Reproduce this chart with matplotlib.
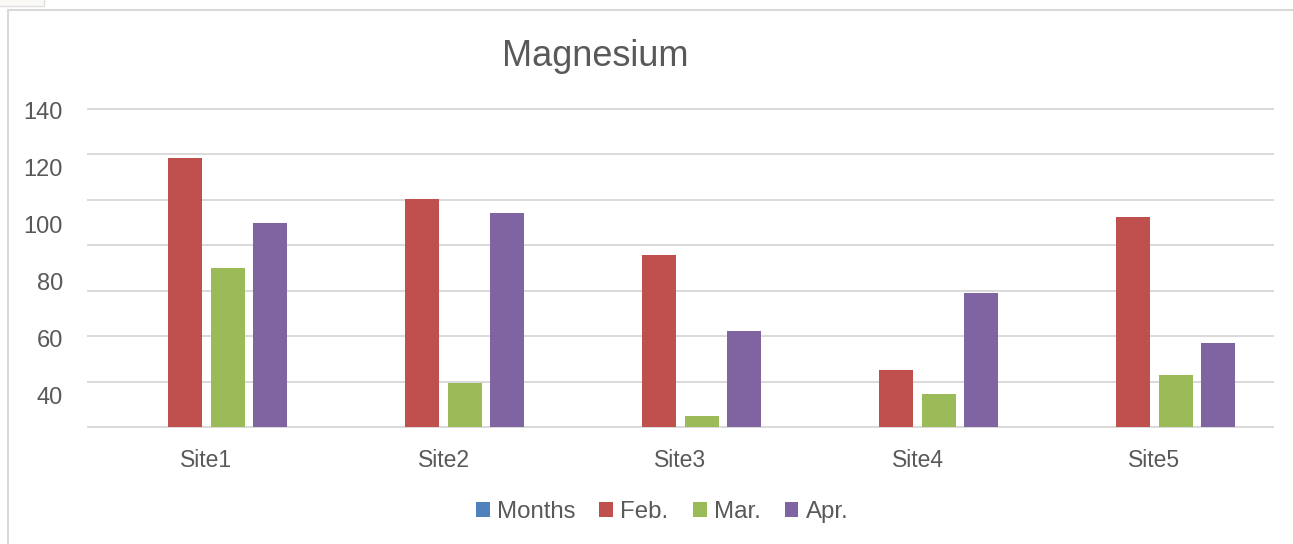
import matplotlib
matplotlib.use("Agg")
import matplotlib.pyplot as plt
import numpy as np
from matplotlib.patches import Rectangle

plt.rcParams['font.family'] = ['Liberation Sans', 'DejaVu Sans']

# ---- data ----
categories = ["Site1", "Site2", "Site3", "Site4", "Site5"]
series_names = ["Months", "Feb.", "Mar.", "Apr."]
months = [0, 0, 0, 0, 0]
feb = [123.2, 108.9, 89.4, 49.1, 102.6]
mar = [84.6, 44.5, 33.0, 40.7, 47.3]
apr = [100.4, 104.0, 62.7, 75.9, 58.5]
ytick_values = [40, 60, 80, 100, 120, 140]
title = "Magnesium"

colors = ["#4F81BD", "#C0504D", "#9BBB59", "#8064A2"]
TXT = "#595959"
GRID = "#D9D9D9"

W, H = 1293, 544
fig = plt.figure(figsize=(W / 100, H / 100), dpi=100)
fig.patch.set_facecolor("white")

# outer chart border and small artifact box
fig.add_artist(Rectangle((7.5 / W, -0.1), 1.2, (H - 9.5) / H + 0.1, transform=fig.transFigure,
                         fill=False, edgecolor="#D9D9D9", linewidth=1.5))
fig.add_artist(Rectangle((-0.01, 1 - 5.5 / H), 57 / W, 0.02, transform=fig.transFigure,
                         facecolor="#FAF9F5", edgecolor="#E0E0E0", linewidth=1))

left, right, top, bottom = 88, 1273, 109, 427
ax = fig.add_axes([left / W, 1 - bottom / H, (right - left) / W, (bottom - top) / H])

YMIN, YMAX = 29.16, 140.35
ax.set_ylim(YMIN, YMAX)
ax.set_xlim(-0.5, len(categories) - 0.5)

x = np.arange(len(categories))
width = 0.1435
step = 0.18
all_series = [months, feb, mar, apr]
handles = []
for k, (name, vals, c) in enumerate(zip(series_names, all_series, colors)):
    off = (k - 1.5) * step
    v = np.array(vals, dtype=float)
    h = np.where(v > YMIN, v - YMIN, 0.0)
    b = ax.bar(x + off, h, width, bottom=YMIN, color=c, label=name, zorder=3,
               edgecolor="none")
    handles.append(b)

# gridlines (evenly spaced across plot area)
for gy in np.linspace(YMAX, YMIN, 8):
    ax.axhline(gy, color=GRID, linewidth=1.4, zorder=1, clip_on=False)

for s in ax.spines.values():
    s.set_visible(False)

ax.set_yticks(ytick_values)
ax.set_yticklabels([str(v) for v in ytick_values], fontsize=17, color=TXT)
ax.tick_params(axis='y', length=0, pad=18)
ax.set_xticks(x)
ax.set_xticklabels(categories, fontsize=16.5, color=TXT)
ax.tick_params(axis='x', length=0, pad=16)

fig.text(595 / W, 1 - 66 / H, title, ha='center', va='baseline', fontsize=26, color=TXT)

leg = fig.legend(handles=handles, labels=series_names, loc='center',
                 bbox_to_anchor=(662 / W, 1 - 512 / H), ncol=4, frameon=False,
                 fontsize=17.3, handlelength=0.58, handleheight=0.58,
                 handletextpad=0.3, columnspacing=1.0, labelcolor=TXT)

fig.savefig("out.png", dpi=100, facecolor="white")
